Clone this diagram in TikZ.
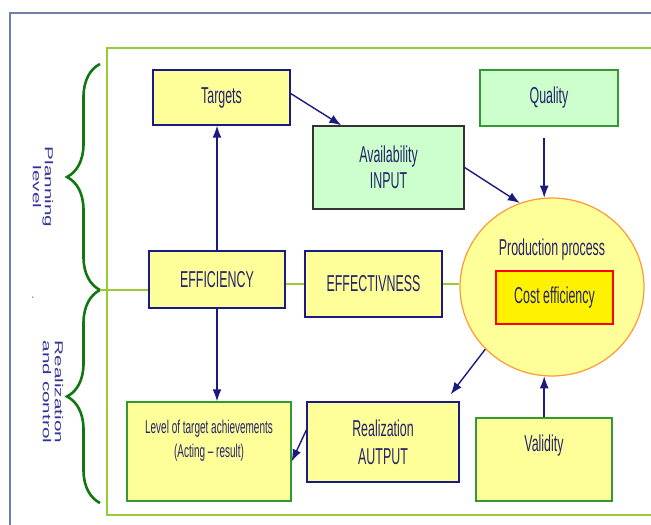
\documentclass[tikz,border=0pt]{standalone}
\usepackage{fontspec}
\setmainfont{Liberation Sans}[FakeStretch=0.54]
\newfontfamily\sidefont{Liberation Sans}[FakeStretch=1.8]
\usetikzlibrary{arrows.meta,positioning,shapes.geometric,decorations.pathreplacing}

\definecolor{lightyel}{HTML}{FFFF99}
\definecolor{lightgrn}{HTML}{CCFFCC}
\definecolor{navyline}{HTML}{1A1A80}
\definecolor{grnline}{HTML}{339933}
\definecolor{availline}{HTML}{333333}
\definecolor{limeline}{HTML}{99CC33}
\definecolor{bracegrn}{HTML}{117711}
\definecolor{framegrey}{HTML}{7080A8}
\definecolor{orangeline}{HTML}{FF9933}
\definecolor{txtcol}{HTML}{23236B}
\definecolor{sidecol}{HTML}{333399}

\begin{document}
\begin{tikzpicture}[x=1pt, y=-1pt,
    txt/.style={text=txtcol, font=\fontsize{23}{26}\selectfont, align=center},
    box/.style={txt, draw=navyline, fill=lightyel, line width=1.3pt, inner sep=0pt},
    gbox/.style={box, draw=grnline},
    arr/.style={-{Latex[length=12pt,width=9pt]}, navyline, line width=1.4pt},
    link/.style={limeline, line width=1.6pt},
    brc/.style={decorate, decoration={brace, amplitude=33pt}, bracegrn, line width=2.6pt},
    side/.style={text=sidecol, font=\sidefont\fontsize{11.5}{12}\selectfont, align=center, rotate=-90}
  ]
    \useasboundingbox (0,0) rectangle (651,525);

    % frames
    \draw[framegrey, line width=1.5pt] (651,13) -- (10,13) -- (10,525);
    \draw[limeline, line width=1.5pt] (651,48) -- (107,48) -- (107,515) -- (651,515);

    % levels on the left
    \coordinate (ptop) at (100,64);
    \coordinate (mid) at (100,290);
    \coordinate (pbot) at (100,503);
    \draw[brc] (mid) -- (ptop);
    \draw[brc] (pbot) -- (mid);
    \node[side] (plan) at (43,187) {Planning\\level};
    \node[side] (realctl) at (53,392) {Realization\\and control};
    \node[text=sidecol, font=\fontsize{14}{14}\selectfont] (dot) at (33,298) {.};

    % boxes
    \node[box, minimum width=137pt, minimum height=55pt] (targets) at (221.5,97.5) {Targets};
    \node[gbox, fill=lightgrn, minimum width=138pt, minimum height=56pt] (quality) at (549,98) {Quality};
    \node[box, draw=availline, fill=lightgrn, minimum width=151pt, minimum height=83pt] (avail) at (388.5,167.5) {Availability\\INPUT};
    \node[box, minimum width=136pt, minimum height=57pt] (eff) at (217,279.5) {EFFICIENCY};
    \node[box, minimum width=137pt, minimum height=66pt] (effv) at (373.5,284) {EFFECTIVNESS};
    \node[ellipse, draw=orangeline, fill=lightyel, line width=1.2pt, minimum width=184pt, minimum height=178pt] (circ) at (552,287) {};
    \node[txt] (prod) at (552,250) {Production process};
    \node[box, draw=red, fill=yellow, minimum width=117pt, minimum height=53pt] (cost) at (554.5,297.5) {Cost efficiency};
    \node[gbox, minimum width=164pt, minimum height=99pt,
      label={[txt, font=\fontsize{18.5}{24}\selectfont, yshift=11pt]center:{Level of target achievements\\(Acting – result)}}] (level) at (209,451.5) {};
    \node[box, minimum width=152pt, minimum height=80pt] (real) at (383,442) {Realization\\[2pt]AUTPUT};
    \node[gbox, minimum width=136pt, minimum height=83pt,
      label={[txt, yshift=14pt]center:Validity}] (valid) at (544,459.5) {};

    % green links
    \draw[link] (mid) -- (mid -| eff.west);
    \draw[link] (effv.west -| eff.east) -- (effv.west);
    \draw[link] (effv.east) -- (effv.east -| circ.west);

    % arrows
    \draw[arr] (eff.north) -- (eff.north |- targets.south);
    \draw[arr] ([yshift=4pt]targets.east) -- ([xshift=29pt]avail.north west);
    \draw[arr] (avail.east) -- (circ.111);
    \draw[arr, shorten <=11pt] (quality.south -| circ.95) -- (circ.95);
    \draw[arr] (valid.north -| circ.265) -- (circ.265);
    \draw[arr] (circ.223) -- ([xshift=-9pt, yshift=7pt]real.north east);
    \draw[arr] ([yshift=12pt]real.west) -- ([yshift=-10pt]level.east);
    \draw[arr] (eff.south) -- (eff.south |- level.north);
\end{tikzpicture}
\end{document}
